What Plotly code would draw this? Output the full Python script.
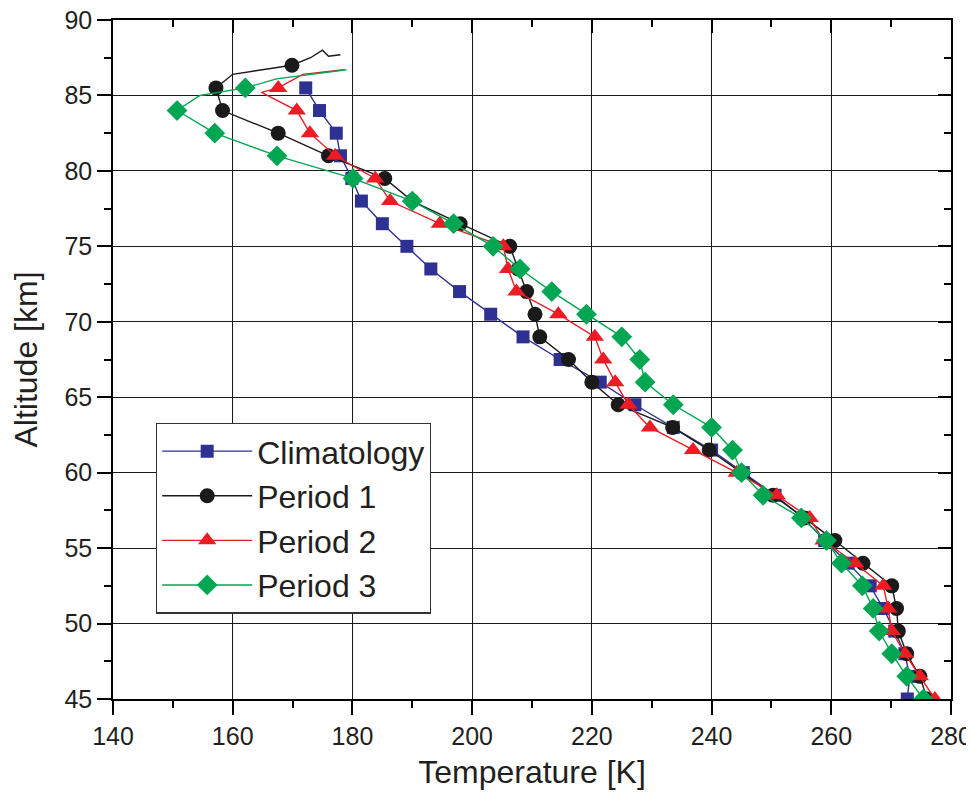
import plotly.graph_objects as go

# ---------------- data ----------------
MARK_ALTS = [87.0, 85.5, 84.0, 82.5, 81.0, 79.5, 78.0, 76.5, 75.0, 73.5, 72.0, 70.5,
             69.0, 67.5, 66.0, 64.5, 63.0, 61.5, 60.0, 58.5, 57.0, 55.5, 54.0,
             52.5, 51.0, 49.5, 48.0, 46.5, 45.0]

clim_alt = [85.5, 84.0, 82.5, 81.0, 79.5, 78.0, 76.5, 75.0, 73.5, 72.0, 70.5, 69.0,
            67.5, 66.0, 64.5, 63.0, 61.5, 60.0, 58.5, 57.0, 55.5, 54.0, 52.5, 51.0,
            49.5, 48.0, 46.5, 45.0]
clim_T = [172.2, 174.5, 177.3, 178.0, 179.9, 181.5, 185.0, 189.1, 193.1, 197.9, 203.1,
          208.5, 214.7, 221.4, 227.2, 233.6, 240.0, 245.3, 250.6, 255.3, 258.9, 262.8,
          266.5, 268.7, 270.6, 272.3, 273.1, 272.7]

p1_alt = [87.7, 87.6, 88.0, 87.5, 87.0, 86.4, 85.5, 84.0, 82.5, 81.0, 79.5, 78.0, 76.5,
          75.0, 73.5, 72.0, 70.5, 69.0, 67.5, 66.0, 64.5, 63.0, 61.5, 60.0, 58.5, 57.0,
          55.5, 54.0, 52.5, 51.0, 49.5, 48.0, 46.5, 45.0]
p1_T = [178.0, 176.0, 175.0, 173.0, 169.9, 160.0, 157.2, 158.3, 167.6, 176.0, 185.4,
        190.0, 198.0, 206.3, 207.7, 209.1, 210.5, 211.3, 216.1, 220.0, 224.4, 233.5,
        239.6, 245.0, 250.3, 255.5, 260.6, 265.3, 270.1, 270.9, 271.2, 272.6, 274.8,
        276.0]

p2_alt = [86.7, 86.4, 85.5, 85.2, 84.0, 82.5, 81.0, 79.5, 78.0, 76.5, 75.0, 73.5, 72.0,
          70.5, 69.0, 67.5, 66.0, 64.5, 63.0, 61.5, 60.0, 58.5, 57.0, 55.5, 54.0, 52.5,
          51.0, 49.5, 48.0, 46.5, 45.0]
p2_T = [178.5, 171.7, 167.6, 164.8, 170.7, 172.9, 177.1, 183.8, 186.3, 194.6, 205.2,
        206.0, 207.4, 214.4, 220.5, 221.9, 223.9, 226.1, 229.7, 236.9, 244.2, 250.9,
        256.4, 258.7, 264.0, 268.7, 269.5, 270.1, 272.3, 274.8, 277.3]

p3_alt = [86.7, 86.1, 85.5, 85.0, 84.0, 82.5, 81.0, 79.5, 78.0, 76.5, 75.0, 73.5, 72.0,
          70.5, 69.0, 67.5, 66.0, 64.5, 63.0, 61.5, 60.0, 58.5, 57.0, 55.5, 54.0, 52.5,
          51.0, 49.5, 48.0, 46.5, 45.0]
p3_T = [179.0, 167.3, 162.1, 154.5, 150.7, 157.0, 167.4, 180.1, 190.0, 196.9, 203.5,
        208.0, 213.3, 219.1, 225.0, 228.0, 228.9, 233.6, 240.0, 243.5, 245.0, 248.6,
        255.0, 259.2, 261.7, 265.2, 267.0, 268.0, 270.1, 272.6, 275.4]

names = ["Climatology", "Period 1", "Period 2", "Period 3"]
series = [(clim_T, clim_alt), (p1_T, p1_alt), (p2_T, p2_alt), (p3_T, p3_alt)]

x_ticks = [140, 160, 180, 200, 220, 240, 260, 280]
y_ticks = [45, 50, 55, 60, 65, 70, 75, 80, 85, 90]

# ---------------- styling ----------------
colors = ["#2E3192", "#1A1A1A", "#ED1C24", "#00A651"]
symbols = ["square", "circle", "triangle-up", "diamond"]
sizes = [13, 15, 16, 16]
FONT = "Liberation Sans, Arial, Helvetica, sans-serif"

fig = go.Figure()
for name, (T, A), c, s, sz in zip(names, series, colors, symbols, sizes):
    sel = [i for i, a in enumerate(A) if a in MARK_ALTS]
    fig.add_trace(go.Scatter(
        x=T, y=A, name=name, mode="lines+markers",
        line=dict(color=c, width=1.4),
        marker=dict(color=c, symbol=s, size=sz, line=dict(width=0)),
        selectedpoints=sel,
        selected=dict(marker=dict(opacity=1)),
        unselected=dict(marker=dict(opacity=0)),
    ))

# dummy traces to register mirror axes (inside ticks on top/right)
fig.add_trace(go.Scatter(x=[], y=[], xaxis="x2", yaxis="y", showlegend=False, hoverinfo="skip"))
fig.add_trace(go.Scatter(x=[], y=[], xaxis="x", yaxis="y2", showlegend=False, hoverinfo="skip"))

axis_common = dict(showline=True, linecolor="black", linewidth=1.5,
                   gridcolor="#1A1A1A", gridwidth=1.3, showgrid=True, automargin=False,
                   zeroline=False, ticks="outside", ticklen=14, tickwidth=1.5,
                   tickcolor="black", tickfont=dict(family=FONT, size=25, color="#231F20"),
                   ticklabeloverflow="allow", layer="below traces")

mirror_common = dict(ticks="inside", ticklen=13, tickwidth=1.5, tickcolor="black",
                     showticklabels=False, showgrid=False, zeroline=False,
                     showline=False, automargin=False)

# page body has an 8px default margin, so the figure is sized 8px smaller
fig.update_layout(
    width=966, height=798,
    margin=dict(l=105, r=23, t=12, b=107),
    paper_bgcolor="white", plot_bgcolor="rgba(0,0,0,0)",
    font=dict(family=FONT, color="#231F20"),
    xaxis=dict(range=[140, 280], tickvals=x_ticks, mirror=True,
               minor=dict(dtick=10, ticks="outside", ticklen=7, tickwidth=1.5,
                          tickcolor="black", showgrid=False),
               title=dict(text="Temperature [K]", font=dict(family=FONT, size=32),
                          standoff=12),
               **axis_common),
    yaxis=dict(range=[45, 90], tickvals=y_ticks, mirror=True,
               minor=dict(dtick=2.5, ticks="outside", ticklen=7, tickwidth=1.5,
                          tickcolor="black", showgrid=False),
               title=dict(text="Altitude [km]", font=dict(family=FONT, size=32),
                          standoff=18),
               **axis_common),
    xaxis2=dict(range=[140, 280], overlaying="x", side="top", tickvals=x_ticks,
                minor=dict(dtick=10, ticks="inside", ticklen=7, tickwidth=1.5,
                           tickcolor="black", showgrid=False),
                **mirror_common),
    yaxis2=dict(range=[45, 90], overlaying="y", side="right", tickvals=y_ticks,
                minor=dict(dtick=2.5, ticks="inside", ticklen=7, tickwidth=1.5,
                           tickcolor="black", showgrid=False),
                **mirror_common),
    legend=dict(x=0.0513, y=0.407, xanchor="left", yanchor="top",
                bgcolor="white", bordercolor="#333333", borderwidth=1.2,
                font=dict(family=FONT, size=32, color="#231F20"),
                itemwidth=90, tracegroupgap=0),
    showlegend=True,
)

fig.write_html("out.html")
